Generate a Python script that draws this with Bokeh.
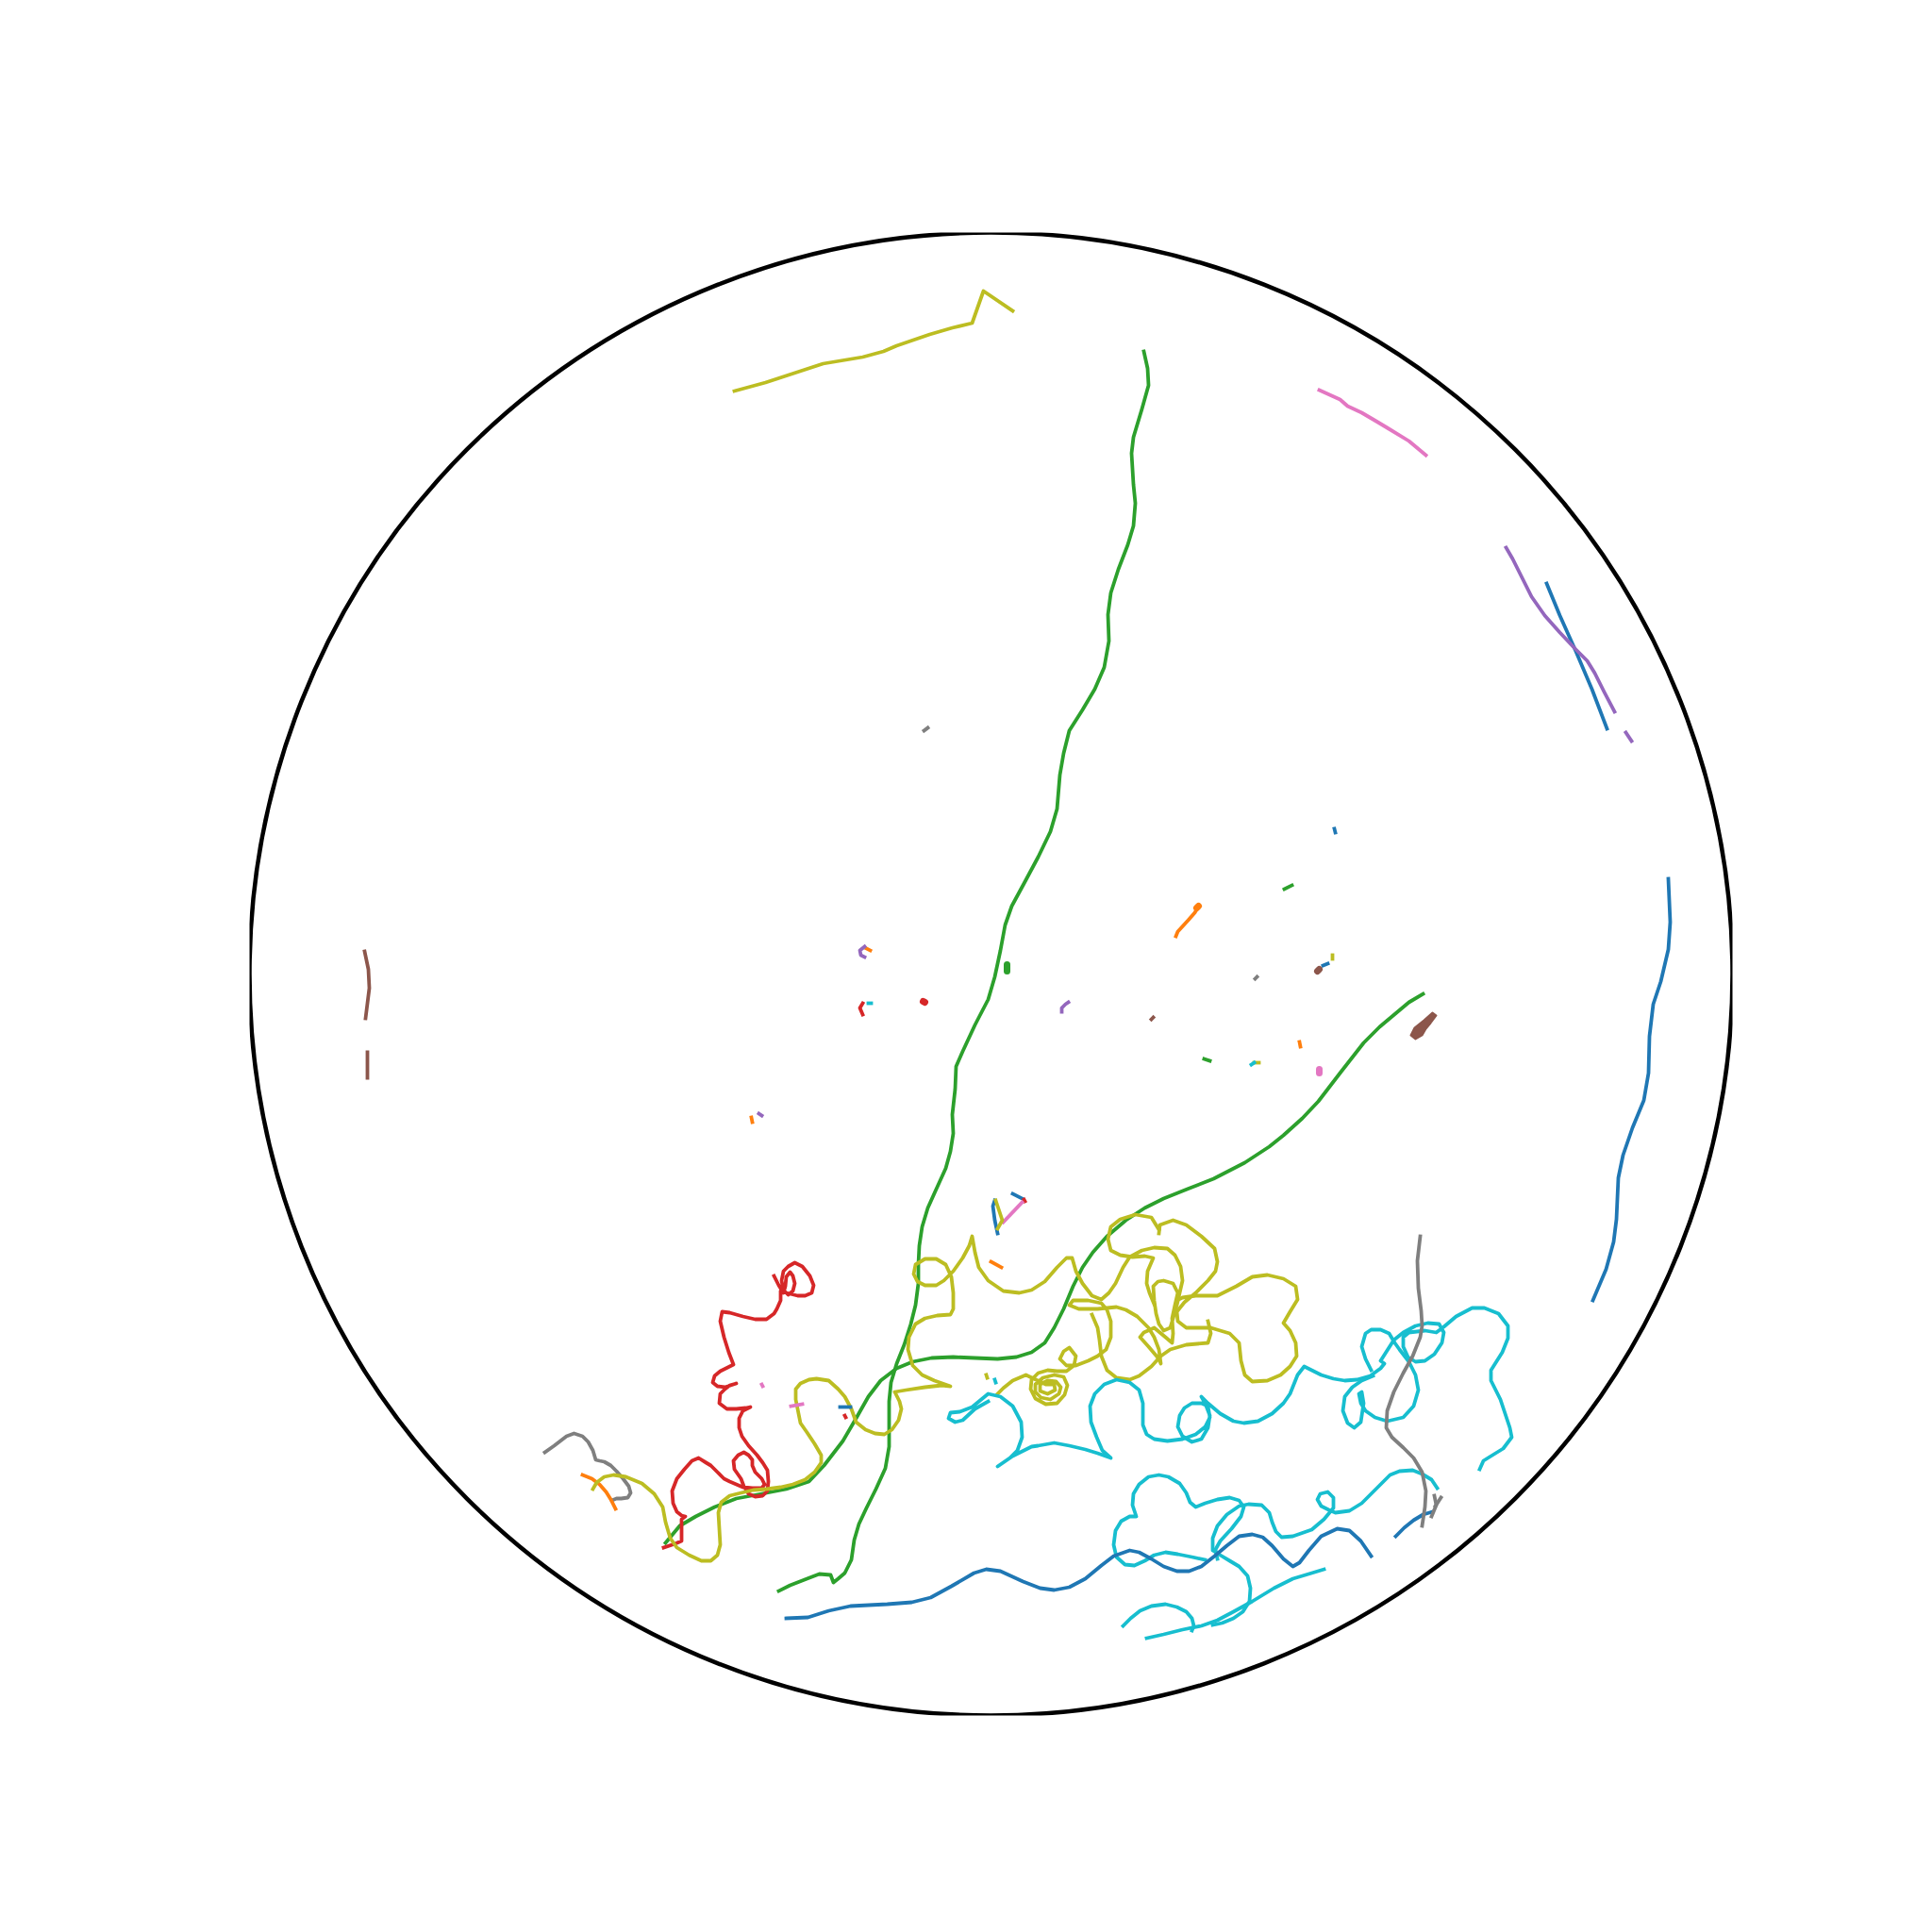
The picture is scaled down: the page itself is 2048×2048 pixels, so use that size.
from bokeh.plotting import figure
from bokeh.models import Range1d
from bokeh.embed import file_html
from bokeh.resources import INLINE

# Arena (dish) in image pixel coordinates
arena_cx, arena_cy, arena_r = 1050, 1032, 786

# ---- tracks: (x, y) image-pixel positions --------------------------------
olive_top = [(778,414),(811,405),(872,385),(914,378),(936,372),(950,366),(985,354),(1009,347),(1030,342),(1042,308),(1073,329)]

green_long = [(1212,372),(1216,390),(1217,408),(1210,433),(1201,463),(1199,480),(1201,513),(1203,533),(1201,557),(1195,577),(1185,603),(1177,628),(1174,651),(1175,679),(1170,707),(1160,730),(1147,752),(1133,774),(1127,798),(1123,821),(1120,857),(1113,881),(1100,908),(1085,936),(1072,960),(1065,980),(1060,1007),(1054,1035),(1047,1059),(1033,1086),(1020,1114),(1013,1130),(1012,1154),(1009,1181),(1010,1201),(1007,1220),(1002,1238),(992,1260),(983,1280),(977,1300),(974,1320),(973,1340),(973,1360),(970,1383),(965,1403),(958,1425),(950,1445),(944,1465),(942,1485),(942,1510),(942,1533),(938,1556),(928,1578),(918,1598),(910,1615),(905,1632),(902,1653),(895,1667),(888,1673),(883,1677),(880,1669),(868,1668),(855,1673),(837,1680),(825,1686)]

green_curve = [(1508,1053),(1493,1062),(1462,1088),(1445,1105),(1420,1137),(1397,1167),(1380,1185),(1360,1203),(1345,1215),(1319,1232),(1286,1249),(1258,1260),(1233,1270),(1213,1280),(1193,1293),(1173,1310),(1158,1327),(1147,1343),(1137,1363),(1127,1387),(1117,1407),(1107,1423),(1093,1433),(1077,1438),(1057,1440),(1033,1439),(1010,1438),(987,1439),(967,1443),(950,1450),(933,1463),(920,1480),(907,1503),(893,1527),(873,1553),(857,1570),(833,1578),(807,1583),(780,1588),(757,1597),(737,1607),(720,1617),(705,1635)]

red_track = [(820,1352),(825,1362),(830,1370),(832,1363),(833,1353),(837,1348),(840,1352),(842,1360),(840,1368),(835,1372),(830,1367),(828,1357),(830,1347),(835,1342),(842,1338),(850,1342),(858,1352),(862,1362),(860,1370),(853,1373),(845,1373),(833,1370),(827,1368),(827,1378),(823,1387),(820,1392),(812,1398),(800,1398),(787,1395),(773,1391),(765,1390),(763,1400),(767,1417),(772,1433),(777,1446),(773,1448),(763,1453),(757,1458),(755,1465),(760,1469),(768,1470),(780,1466),(773,1468),(768,1472),(763,1477),(762,1487),(770,1493),(780,1493),(790,1492),(795,1491),(787,1495),(783,1503),(783,1513),(786,1522),(793,1532),(802,1542),(808,1550),(813,1558),(814,1570),(813,1580),(808,1585),(800,1586),(793,1583),(788,1575),(785,1567),(778,1557),(777,1548),(782,1542),(788,1539),(793,1542),(797,1547),(797,1553),(800,1560),(807,1567),(810,1573),(807,1577),(797,1577),(787,1576),(773,1570),(767,1567),(760,1560),(753,1553),(748,1550),(740,1545),(733,1548),(725,1557),(717,1567),(712,1580),(713,1593),(717,1602),(722,1606),(726,1607),(722,1610),(722,1620),(722,1633),(715,1636),(703,1640)]

gray_left = [(577,1539),(587,1532),(600,1522),(608,1519),(617,1522),(623,1528),(628,1537),(631,1547),(635,1548),(640,1549),(647,1553),(653,1559),(660,1567),(666,1575),(668,1582),(665,1587),(658,1588),(653,1588),(648,1590)]
orange_left = [(617,1563),(627,1567),(635,1573),(642,1581),(647,1589),(652,1599)]

olive_tangle = [(628,1578),(632,1571),(640,1565),(650,1563),(663,1565),(680,1572),(693,1583),(702,1597),(705,1613),(710,1630),(717,1640),(730,1648),(743,1654),(753,1654),(760,1648),(763,1637),(762,1620),(761,1603),(764,1592),(773,1585),(785,1582),(798,1579),(812,1578),(827,1576),(840,1573),(853,1568),(863,1560),(870,1550),(870,1542),(863,1530),(855,1518),(848,1508),(845,1493),(843,1483),(843,1472),(848,1466),(857,1462),(865,1461),(878,1463),(888,1472),(895,1480),(902,1493),(907,1507),(917,1515),(927,1519),(937,1520),(945,1515),(952,1505),(955,1493),(953,1485),(948,1475),(960,1473),(980,1470),(998,1468),(1007,1469),(990,1463),(977,1457),(967,1447),(962,1430),(963,1417),(970,1403),(980,1397),(993,1394),(1007,1393),(1010,1387),(1010,1370),(1008,1353),(1002,1340),(992,1334),(980,1334),(970,1340),(968,1350),(972,1358),(980,1362),(992,1362),(1000,1357),(1010,1347),(1020,1333),(1027,1320),(1030,1310),(1033,1327),(1037,1343),(1047,1357),(1063,1368),(1080,1370),(1093,1367),(1107,1358),(1120,1343),(1130,1333),(1136,1333),(1140,1347),(1147,1360),(1157,1373),(1167,1377),(1175,1370),(1182,1360),(1190,1343),(1197,1332),(1210,1325),(1223,1322),(1237,1323),(1245,1330),(1251,1342),(1253,1357),(1250,1370),(1247,1383),(1243,1397),(1240,1407),(1233,1410),(1228,1403),(1225,1392),(1223,1378),(1222,1363),(1227,1358),(1233,1357),(1243,1360),(1248,1370),(1245,1383),(1242,1397),(1243,1413),(1242,1423),(1235,1417),(1223,1407),(1212,1412),(1208,1417),(1217,1427),(1228,1440),(1230,1445),(1228,1430),(1223,1417),(1217,1407),(1205,1395),(1193,1388),(1183,1385),(1163,1387),(1143,1387),(1133,1383),(1137,1378),(1153,1378),(1167,1381),(1173,1388),(1177,1400),(1177,1417),(1172,1430),(1163,1437),(1153,1442),(1140,1447),(1130,1447),(1123,1440),(1127,1432),(1133,1428),(1140,1437),(1138,1447),(1130,1453),(1120,1453),(1110,1452),(1100,1455),(1093,1462),(1092,1472),(1097,1482),(1108,1488),(1120,1487),(1128,1478),(1131,1468),(1127,1459),(1117,1457),(1105,1460),(1097,1467),(1097,1475),(1103,1481),(1113,1483),(1122,1477),(1124,1470),(1119,1464),(1110,1463),(1102,1467),(1102,1474),(1110,1477),(1118,1473),(1117,1467),(1108,1467),(1087,1457),(1073,1463),(1063,1471),(1057,1477)]

olive_right = [(1228,1307),(1229,1298),(1243,1293),(1257,1298),(1273,1310),(1287,1323),(1290,1337),(1288,1347),(1280,1357),(1267,1370),(1255,1380),(1247,1390),(1248,1400),(1257,1407),(1283,1407),(1303,1413),(1313,1423),(1315,1442),(1319,1457),(1327,1464),(1343,1463),(1357,1457),(1367,1448),(1374,1437),(1373,1423),(1367,1410),(1360,1402),(1367,1390),(1375,1377),(1373,1363),(1360,1355),(1343,1351),(1327,1353),(1310,1363),(1290,1373),(1267,1373),(1253,1375),(1247,1378)]
olive_loop = [(1228,1303),(1220,1290),(1203,1287),(1187,1292),(1177,1300),(1174,1313),(1177,1325),(1187,1330),(1200,1332),(1213,1331),(1222,1333),(1216,1347),(1215,1360),(1218,1370),(1223,1382)]
olive_lower = [(1280,1400),(1283,1413),(1280,1423),(1257,1425),(1240,1430),(1230,1437),(1220,1448),(1207,1458),(1197,1462),(1183,1460),(1173,1452),(1167,1437),(1165,1420),(1163,1407),(1157,1393)]

cyan_long = [(1047,1485),(1033,1493),(1020,1505),(1012,1507),(1005,1503),(1007,1497),(1017,1496),(1030,1491),(1047,1477),(1060,1480),(1073,1490),(1082,1507),(1083,1523),(1078,1537),(1070,1545),(1057,1554),(1073,1543),(1093,1533),(1100,1532),(1117,1529),(1133,1532),(1150,1536),(1163,1540),(1177,1545),(1168,1537),(1162,1523),(1156,1507),(1155,1490),(1160,1477),(1170,1467),(1183,1462),(1197,1465),(1207,1473),(1211,1487),(1211,1510),(1215,1520),(1223,1525),(1237,1527),(1253,1525),(1267,1520),(1277,1512),(1282,1502),(1280,1490),(1273,1487),(1263,1487),(1255,1492),(1250,1500),(1248,1512),(1253,1522),(1263,1528),(1273,1525),(1280,1513),(1282,1500),(1277,1487),(1273,1480),(1280,1487),(1293,1498),(1307,1506),(1318,1508),(1333,1506),(1348,1498),(1360,1487),(1367,1477),(1375,1457),(1382,1448),(1390,1452),(1400,1457),(1413,1461),(1425,1463),(1438,1462),(1452,1458),(1463,1450),(1467,1445),(1463,1442),(1477,1420),(1487,1412),(1500,1405),(1513,1402),(1525,1403),(1530,1412),(1528,1423),(1520,1435),(1510,1442),(1500,1443),(1492,1438),(1487,1427),(1487,1417),(1493,1412),(1510,1410),(1522,1412),(1530,1406),(1543,1395),(1560,1386),(1573,1386),(1588,1392),(1598,1405),(1598,1418),(1592,1433),(1580,1452),(1580,1463),(1590,1483),(1600,1513),(1602,1523),(1593,1535),(1580,1543),(1572,1548),(1568,1557)]
cyan_knot = [(1455,1458),(1443,1463),(1433,1470),(1425,1480),(1423,1495),(1428,1508),(1435,1513),(1442,1507),(1445,1487),(1443,1475),(1440,1477),(1442,1487),(1447,1495),(1457,1502),(1470,1506),(1487,1502),(1498,1490),(1503,1473),(1500,1457),(1493,1443),(1483,1430),(1478,1423),(1472,1413),(1463,1409),(1453,1409),(1447,1413),(1443,1427),(1447,1440),(1453,1452)]
cyan_mid = [(1523,1577),(1517,1568),(1507,1562),(1497,1558),(1483,1559),(1473,1563),(1463,1573),(1453,1583),(1443,1593),(1430,1601),(1415,1603),(1408,1600),(1400,1596),(1396,1589),(1399,1583),(1407,1581),(1413,1587),(1413,1598),(1403,1610),(1390,1621),(1370,1628),(1358,1629),(1352,1623),(1348,1613),(1345,1603),(1337,1595),(1323,1594),(1313,1596),(1300,1605),(1290,1617),(1285,1630),(1285,1643),(1293,1648),(1303,1654),(1313,1660),(1322,1670),(1325,1683),(1324,1697),(1317,1708),(1307,1715),(1295,1720),(1285,1722)]
cyan_cloud = [(1290,1652),(1288,1642),(1293,1633),(1305,1620),(1315,1607),(1318,1597),(1313,1590),(1303,1587),(1290,1589),(1277,1593),(1267,1597),(1261,1592),(1257,1582),(1250,1572),(1238,1565),(1228,1563),(1217,1565),(1207,1573),(1201,1583),(1200,1595),(1204,1607),(1197,1607),(1188,1612),(1182,1622),(1180,1637),(1183,1650),(1192,1658),(1202,1659),(1213,1654),(1223,1648),(1235,1645),(1248,1647),(1263,1650),(1277,1653)]
cyan_arc = [(1190,1723),(1198,1715),(1208,1707),(1220,1702),(1235,1700),(1247,1703),(1257,1708),(1263,1715),(1265,1723),(1263,1728)]
cyan_tail = [(1215,1736),(1233,1732),(1253,1727),(1273,1723),(1290,1717),(1307,1708),(1327,1697),(1350,1683),(1370,1673),(1390,1667),(1403,1663)]

blue_wave = [(833,1715),(856,1714),(878,1707),(901,1702),(940,1700),(966,1698),(986,1693),(1008,1681),(1032,1667),(1045,1663),(1060,1665),(1084,1676),(1102,1683),(1117,1685),(1133,1682),(1150,1673),(1167,1659),(1180,1649),(1197,1643),(1207,1645),(1220,1652),(1233,1660),(1247,1665),(1260,1665),(1273,1660),(1287,1649),(1300,1638),(1313,1628),(1327,1626),(1338,1629),(1348,1638),(1360,1652),(1370,1660),(1377,1656),(1387,1643),(1400,1628),(1417,1620),(1430,1622),(1442,1633),(1453,1649)]
blue_hook = [(1479,1628),(1488,1619),(1498,1611),(1508,1605),(1518,1602)]
blue_edge = [(1768,931),(1770,977),(1768,1006),(1760,1040),(1752,1064),(1748,1098),(1747,1137),(1742,1166),(1730,1195),(1720,1224),(1715,1248),(1713,1292),(1710,1316),(1702,1345),(1688,1378)]
blue_diag = [(1639,618),(1653,652),(1670,690),(1687,730),(1703,772)]

gray_right = [(1505,1310),(1502,1336),(1503,1365),(1506,1389),(1507,1405),(1505,1417),(1497,1437),(1487,1455),(1477,1475),(1470,1495),(1469,1513),(1475,1523),(1487,1534),(1498,1545),(1507,1560),(1511,1580),(1510,1597),(1507,1617)]

pink_top = [(1398,413),(1420,423),(1428,430),(1443,437),(1460,447),(1470,453),(1493,467),(1511,482)]
purple_edge = [(1596,580),(1603,592),(1613,612),(1623,632),(1637,652),(1653,670),(1670,688),(1682,700),(1690,713),(1700,733),(1711,754)]
brown_left = [(386,1008),(390,1027),(391,1047),(389,1063),(387,1079)]
orange_dash = [(1246,992),(1248,987),(1259,975),(1266,967),(1269,962)]

# near-stationary animals: outline of the smeared blob of positions
brown_blob = [(1495,1097),(1499,1089),(1509,1081),(1518,1073),(1522,1076),(1516,1084),(1511,1090),(1507,1097),(1500,1101)]

# short fragments, grouped by colour
blue_bits = [[(1414,878),(1415,882)], [(1402,1023),(1407,1021)], [(890,1491),(901,1491)],
             [(1054,1272),(1052,1278),(1054,1293),(1057,1307)], [(1073,1265),(1083,1270)]]
orange_bits = [[(918,1005),(922,1007)], [(1377,1104),(1378,1109)], [(796,1184),(797,1189)], [(1050,1337),(1061,1343)]]
green_bits = [[(1361,942),(1369,938)], [(1276,1122),(1282,1124)]]
red_bits = [[(914,1063),(911,1068),(914,1075)], [(895,1500),(896,1502)], [(1085,1271),(1086,1273)]]
purple_bits = [[(916,1003),(911,1007),(912,1012),(916,1014)], [(1125,1072),(1125,1068),(1129,1064),(1132,1062)],
               [(804,1180),(807,1182)], [(1723,776),(1729,785)]]
brown_bits = [[(1220,1080),(1222,1078)], [(389,1115),(389,1142)]]
pink_bits = [[(838,1490),(850,1488)], [(807,1467),(808,1469)], [(1063,1295),(1083,1274)]]
gray_bits = [[(979,774),(983,771)], [(1330,1037),(1332,1035)], [(1520,1585),(1522,1595),(1517,1607)], [(1527,1587),(1521,1596)]]
olive_bits = [[(1412,1012),(1412,1016)], [(1329,1126),(1334,1126)], [(1045,1457),(1046,1460)], [(1055,1272),(1062,1293),(1057,1302)]]
cyan_bits = [[(920,1063),(923,1063)], [(1326,1128),(1329,1126)], [(1054,1462),(1055,1465)]]

# fragments that are smeared dots (drawn with a heavier stroke)
dot_bits = [([(1067,1022),(1067,1029)], "green"), ([(978,1061),(980,1062)], "red"),
            ([(1398,1133),(1398,1137)], "pink"), ([(1396,1029),(1398,1027)], "brown"),
            ([(1268,962),(1270,960)], "orange")]

# ---- colours (tab10) ----
C = dict(blue="#1f77b4", orange="#ff7f0e", green="#2ca02c", red="#d62728", purple="#9467bd",
         brown="#8c564b", pink="#e377c2", gray="#7f7f7f", olive="#bcbd22", cyan="#17becf")

tracks = [
    (olive_top, "olive"), (green_long, "green"), (green_curve, "green"), (red_track, "red"),
    (gray_left, "gray"), (orange_left, "orange"), (olive_tangle, "olive"), (olive_right, "olive"),
    (olive_loop, "olive"), (olive_lower, "olive"), (cyan_long, "cyan"), (cyan_knot, "cyan"),
    (cyan_mid, "cyan"), (cyan_cloud, "cyan"), (cyan_arc, "cyan"), (cyan_tail, "cyan"),
    (blue_wave, "blue"), (blue_hook, "blue"), (blue_edge, "blue"), (blue_diag, "blue"),
    (gray_right, "gray"), (pink_top, "pink"), (purple_edge, "purple"), (brown_left, "brown"),
    (orange_dash, "orange"),
]
fragments = [(blue_bits, "blue"), (orange_bits, "orange"), (green_bits, "green"), (red_bits, "red"),
             (purple_bits, "purple"), (brown_bits, "brown"), (pink_bits, "pink"), (gray_bits, "gray"),
             (olive_bits, "olive"), (cyan_bits, "cyan")]

p = figure(width=2048, height=2048, output_backend="svg", toolbar_location=None,
           x_range=Range1d(arena_cx - arena_r, arena_cx + arena_r),
           y_range=Range1d(arena_cy + arena_r, arena_cy - arena_r),
           x_axis_location=None, y_axis_location=None,
           min_border_left=264, min_border_right=212, min_border_top=246, min_border_bottom=230)
p.grid.visible = False
p.outline_line_color = None
p.background_fill_color = "white"
p.border_fill_color = "white"

LW = 3.8
for pts, col in tracks:
    xs = [a for a, b in pts]
    ys = [b for a, b in pts]
    p.line(xs, ys, line_color=C[col], line_width=LW, line_join="round", line_cap="square")
for groups, col in fragments:
    xs = [[a for a, b in g] for g in groups]
    ys = [[b for a, b in g] for g in groups]
    p.multi_line(xs, ys, line_color=C[col], line_width=LW, line_join="round", line_cap="square")
for pts, col in dot_bits:
    p.line([a for a, b in pts], [b for a, b in pts], line_color=C[col], line_width=7, line_cap="round")

p.patch([a for a, b in brown_blob], [b for a, b in brown_blob], fill_color=C["brown"],
        line_color=C["brown"], line_width=2, line_join="round")

p.circle(x=[arena_cx], y=[arena_cy], radius=arena_r, fill_color=None,
         line_color="black", line_width=4.5)

open("out.html", "w").write(file_html(p, INLINE))
